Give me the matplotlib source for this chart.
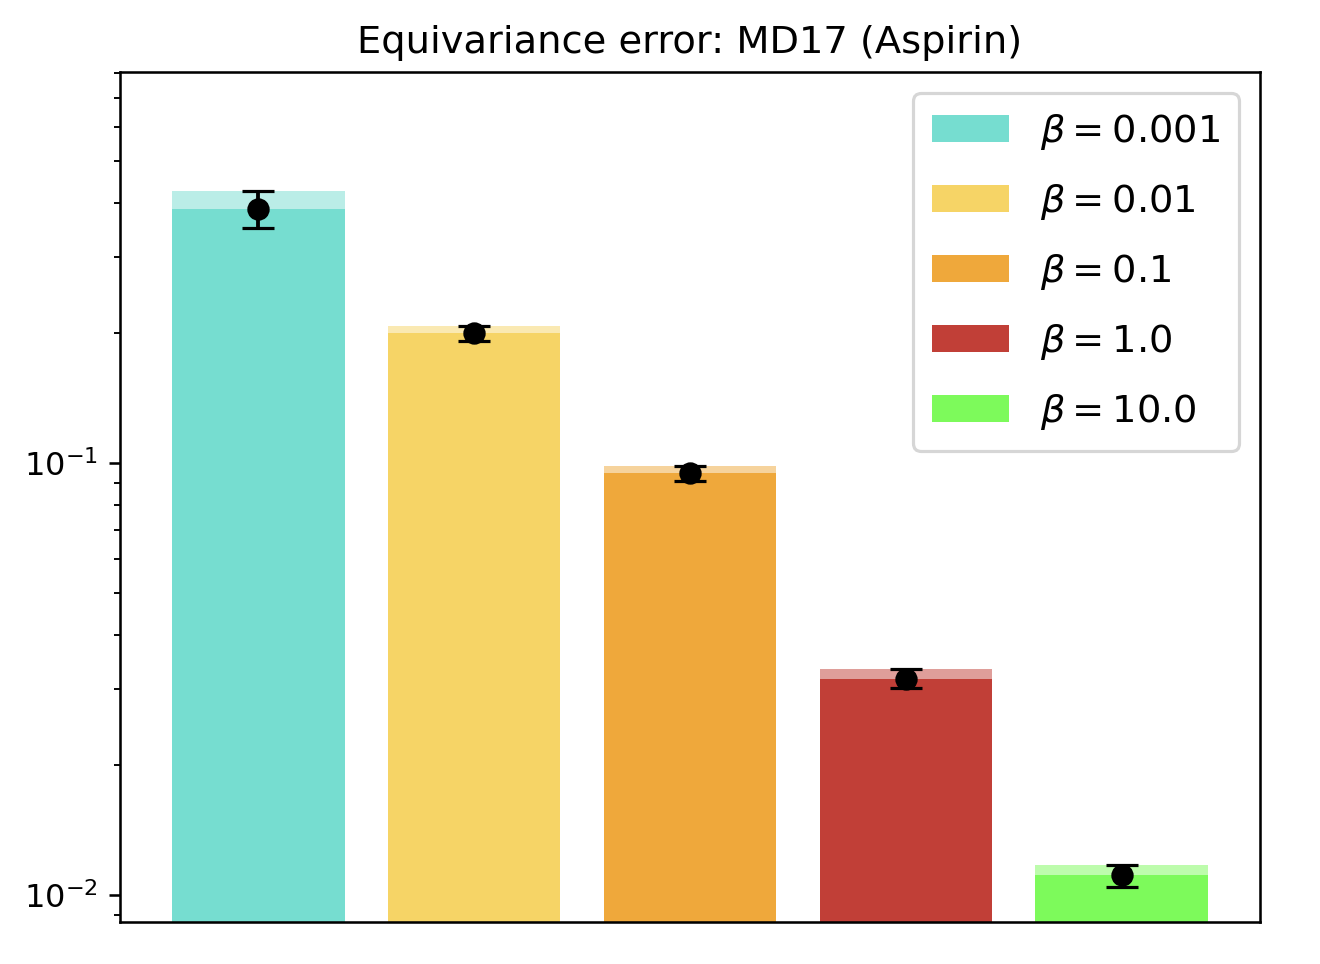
import numpy as np
import matplotlib
matplotlib.use("Agg")
import matplotlib.pyplot as plt

betas = ["0.001", "0.01", "0.1", "1.0", "10.0"]
means = [0.388, 0.1996, 0.0946, 0.0317, 0.0111]
stds = [0.038, 0.0078, 0.0038, 0.0016, 0.00065]
colors = ["#76ddd0", "#f6d466", "#efa83b", "#c13f37", "#7dfa5b"]

fig = plt.figure(figsize=(1320/230, 964/230), dpi=230)
ax = fig.add_subplot(111)
fig.subplots_adjust(left=120/1320, right=1260/1320, top=1-72/964, bottom=1-922/964)

x = np.arange(len(betas))
for i in range(len(betas)):
    # lighter band shows mean + std, solid bar the mean
    ax.bar(x[i], means[i] + stds[i], width=0.8, color=colors[i], alpha=0.5)
    ax.bar(x[i], means[i], width=0.8, color=colors[i], label=r"$\beta = $" + betas[i])
    ax.errorbar(x[i], means[i], yerr=stds[i], fmt="o", color="black",
                markersize=6, capsize=5, elinewidth=1.2)

ax.set_yscale("log")
ax.set_ylim(0.00866, 0.804)
ax.set_xticks([])
ax.set_title("Equivariance error: MD17 (Aspirin)", fontsize=12)
ax.legend(fontsize=12, loc="upper right", labelspacing=0.78, borderpad=0.5,
          borderaxespad=0.55)

plt.savefig("out.png", dpi=230)
